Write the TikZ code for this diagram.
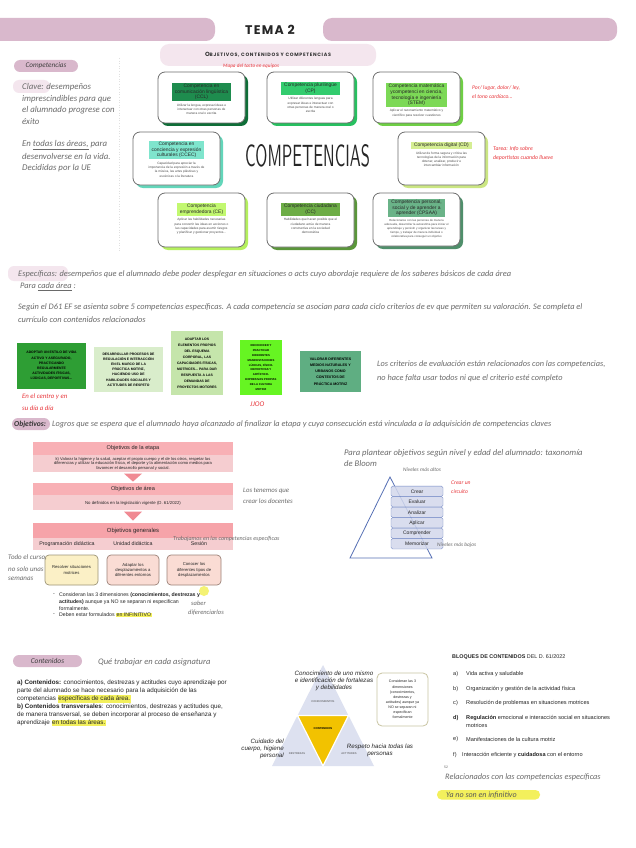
\documentclass[tikz,border=0pt]{standalone}
\usepackage{fontspec}
\setmainfont{Liberation Sans}
\newfontfamily\hand{Carlito}
\newfontfamily\titlespaced{Poppins}[LetterSpace=10]
\newfontfamily\subspaced{Poppins}[LetterSpace=14]
\usetikzlibrary{calc}
\newcommand\fsz[2]{\fontsize{#1}{#2}\selectfont}
\definecolor{hly}{HTML}{F3F05C}
\newcommand\hlt[1]{{\setlength\fboxsep{0.6pt}\colorbox{hly}{#1}}}
\definecolor{pinkbar}{HTML}{D9B8CC}
\definecolor{pinklight}{HTML}{F4E6EE}
\definecolor{hgray}{HTML}{6A6A6A}
\definecolor{nred}{HTML}{E8353A}
\definecolor{cardline}{HTML}{6E6E6E}
\definecolor{cclT}{HTML}{1E8C4E}\definecolor{cclS}{HTML}{0F6E38}
\definecolor{cpT}{HTML}{33CC6E}\definecolor{cpS}{HTML}{27C060}
\definecolor{stemT}{HTML}{7CD956}\definecolor{stemS}{HTML}{6FCF45}
\definecolor{ccecT}{HTML}{7FE5CD}\definecolor{ccecS}{HTML}{63D6BA}
\definecolor{cdT}{HTML}{D5EE93}\definecolor{cdS}{HTML}{CBE682}
\definecolor{ceT}{HTML}{C2F870}\definecolor{ceS}{HTML}{B5F05E}
\definecolor{ccT}{HTML}{6DAD46}\definecolor{ccS}{HTML}{5A963A}
\definecolor{cpsT}{HTML}{6AB388}\definecolor{cpsS}{HTML}{4F8F6B}
\definecolor{gA}{HTML}{2E9E34}\definecolor{gB}{HTML}{D9EDCB}\definecolor{gC}{HTML}{C5E5AB}
\definecolor{gD}{HTML}{66F522}\definecolor{gE}{HTML}{5FAE82}
\definecolor{phdr}{HTML}{F8B0B5}\definecolor{pbody}{HTML}{F5CDD0}\definecolor{parrow}{HTML}{F08A93}
\definecolor{phdrB}{HTML}{F6A3A9}
\definecolor{ybox}{HTML}{FBF0C6}\definecolor{ybord}{HTML}{9C9477}
\definecolor{sbox}{HTML}{FADCD4}\definecolor{sbord}{HTML}{9C8278}
\definecolor{bline}{HTML}{5670B5}\definecolor{bfill}{HTML}{D3D8EC}\definecolor{bbord}{HTML}{7086C4}
\definecolor{lav}{HTML}{DDE1F0}\definecolor{gold}{HTML}{F2C200}\definecolor{olivebd}{HTML}{C9C5A3}

\tikzset{
  hw/.style={font=\hand\itshape\fsz{#1}{#1}, text=hgray, inner sep=0, anchor=west},
  hwred/.style={font=\hand\itshape\fsz{#1}{#1}, text=nred, inner sep=0, anchor=west},
  cardtitle/.style={font=\fsz{4.9}{5.6}, align=center, inner xsep=3, inner ysep=1.6, text=black!85},
  cardbody/.style={font=\fsz{3.2}{4.3}, align=center, inner sep=0.5, text=black!70},
  gbox/.style={font=\bfseries\fsz{3.4}{5.2}, align=center, inner sep=0.5, text=black},
  fhdr/.style={fill=phdr, minimum width=200, inner sep=0, font=\fsz{5.6}{6}, text=black!85},
  fbody/.style={fill=pbody, minimum width=200, inner sep=0, font=\fsz{4.1}{4.8}, align=center, text=black!85},
  smallbox/.style={draw=#1, line width=0.7, rounded corners=4, minimum width=53, minimum height=30, inner sep=0, align=center, font=\fsz{4.2}{5.4}, text=black!85},
  txt/.style={font=\fsz{#1}{#1}, inner sep=0, anchor=west, text=black!85},
  blm/.style={draw=bbord, fill=bfill, fill opacity=0.85, text opacity=1, rounded corners=1.5, minimum width=52, minimum height=10.3, inner sep=0, font=\fsz{5}{5}, text=black!85},
  tri/.style={font=\fsz{2.7}{3}, text=black!70, inner sep=0},
  trlab/.style={font=\itshape\fsz{6.2}{7.2}, align=center, inner sep=0, text=black!85},
}

\newcommand\compcard[9]{%
  \fill[#5, rounded corners=7] ({#2+3},{#3+3}) rectangle ++(87,#9);
  \draw[cardline, line width=0.8, fill=white, rounded corners=7] (#2,#3) rectangle ++(87,#9);
  \node[cardtitle, fill=#4] (#1) at ({#2+43.5},{#3+#8}) {#6};
  \node[cardbody, anchor=north] (#1b) at ([yshift=-1.4pt]#1.south) {#7};
}

\begin{document}
\begin{tikzpicture}[x=1pt,y=-1pt]
\useasboundingbox (0,0) rectangle (636,848);
\fill[white] (0,0) rectangle (636,848);

% ---------- header
\fill[pinkbar,rounded corners=9] (-30,18) rectangle (215,41);
\fill[pinkbar,rounded corners=9] (323,18) rectangle (617,41);
\node[font=\titlespaced\bfseries\fsz{12.5}{13}, text=black!85, inner sep=0] (tema) at (270,29.5) {TEMA 2};
\fill[pinklight,rounded corners=9] (160,44) rectangle (376,66);
\node[font=\subspaced\bfseries, text=black!80, inner sep=0] (sub) at (268,55) {{\fsz{6}{6}O}{\fsz{4.8}{6}BJETIVOS, CONTENIDOS Y COMPETENCIAS}};

% ---------- competencias left
\fill[pinkbar, rounded corners=6] (14,60) rectangle (78,72);
\node[hw=7.2, text=black!75, anchor=center] (lcomp) at (46,66) {Competencias};
\fill[pinklight, rounded corners=6] (13,80) rectangle (50,93);
\node[hw=8.8] (k1) at (22,87) {Clave: desempeños};
\node[hw=8.8] (k2) at (22,99) {imprescindibles para que};
\node[hw=8.8] (k3) at (22,110.5) {el alumnado progrese con};
\node[hw=8.8] (k4) at (22,122) {éxito};
\node[hw=8.8] (k5) at (22,145) {En \underline{todas las áreas,} para};
\node[hw=8.8] (k6) at (22,156.5) {desenvolverse en la vida.};
\node[hw=8.8] (k7) at (22,168) {Decididas por la UE};
\draw[black!12, dotted, line width=0.6] (119,58) -- (119,252);

% ---------- cards
\compcard{ccl}{158}{72}{cclT}{cclS}{Competencia en\\comunicación lingüística\\(CCL)}{Utilizar la lengua, expresar ideas e\\interactuar con otras personas de\\manera oral o escrita}{20}{51}
\compcard{cp}{267}{72}{cpT}{cpS}{Competencia plurilingüe\\(CP)}{Utilizar diferentes lenguas para\\expresar ideas e interactuar con\\otras personas de manera oral o\\escrita}{16.5}{51}
\compcard{stem}{373}{72}{stemT}{stemS}{Competencia matemática\\ycompetenci en ciencia,\\tecnología e ingeniería\\(STEM)}{Aplicar el razonamiento matemático y\\científico para resolver cuestiones}{23}{51}
\compcard{ccec}{133}{132}{ccecT}{ccecS}{Competencia en\\conciencia y expresión\\culturales (CCEC)}{Capacidad para apreciar la\\importancia de la expresión a través de\\la música, las artes plásticas y\\escénicas o la literatura}{18}{53}
\compcard{cd}{398}{132}{cdT}{cdS}{Competencia digital (CD)}{Utilizar de forma segura y crítica las\\tecnologías de la información para\\obtener, analizar, producir e\\intercambiar información}{13.5}{53}
\compcard{ce}{158}{193}{ceT}{ceS}{Competencia\\emprendedora (CE)}{Aplicar las habilidades necesarias\\para convertir las ideas en acciones o\\las capacidades para asumir riesgos\\y planificar y gestionar proyectos...}{16.5}{54}
\compcard{cc}{267}{193}{ccT}{ccS}{Competencia ciudadana\\(CC)}{Habilidades que hacen posible que el\\ciudadano actúe de manera\\constructiva en la sociedad\\democrática}{16.5}{54}
\begin{scope}[cardbody/.append style={font=\fsz{2.9}{3.9}}]
\compcard{cps}{373}{193}{cpsT}{cpsS}{Competencia personal,\\social y de aprender a\\aprender (CPSAA)}{Relacionarse con las personas de manera\\adecuada, desarrollar la autoestima para iniciar el\\aprendizaje y persistir y organizar las tareas y\\tiempo, y trabajar de manera individual o\\colaborativa para conseguir un objetivo}{15}{53}
\end{scope}
\node[inner sep=0, text=black!85] (big) at (307.5,156) {\resizebox{125pt}{22pt}{\sffamily COMPETENCIAS}};

\node[hwred=5.2] (n1) at (223,66) {Mapa del tacto en equipos};
\node[hwred=5.6] (n2) at (472,88) {Por/ lugar, dolor/ ley,};
\node[hwred=5.6] (n3) at (472,96.5) {el tono cardíaco...};
\node[hwred=5.8] (n4) at (493,149) {Tarea: Info sobre};
\node[hwred=5.8] (n5) at (493,158) {deportistas cuando llueve};

% ---------- especificas
\fill[pinklight, rounded corners=6] (8,266) rectangle (68,281);
\node[hw=8.4] (e1) at (18,274) {Específicas: desempeños que el alumnado debe poder desplegar en situaciones o acts cuyo abordaje requiere de los saberes básicos de cada área};
\node[hw=8.4] (e2) at (20,287) {Para \underline{cada área} :};
\node[hw=8.4] (e3) at (18,307) {Según el D61 EF se asienta sobre 5 competencias específicas. A cada competencia se asocian para cada ciclo criterios de ev que permiten su valoración. Se completa el};
\node[hw=8.4] (e4) at (18,320) {currículo con contenidos relacionados};

\node[gbox, fill=gA, minimum width=69, minimum height=46] (gb1) at (51.5,366) {ADOPTAR UN ESTILO DE VIDA\\ACTIVO Y ASEGURADO,\\PRACTICANDO\\REGULARMENTE\\ACTIVIDADES FÍSICAS,\\LÚDICAS, DEPORTIVAS...};
\node[gbox, fill=gB, minimum width=69, minimum height=45] (gb2) at (128.5,369.5) {DESARROLLAR PROCESOS DE\\REGULACIÓN E INTERACCIÓN\\EN EL MARCO DE LA\\PRÁCTICA MOTRIZ,\\HACIENDO USO DE\\HABILIDADES SOCIALES Y\\ACTITUDES DE RESPETO};
\node[gbox, fill=gC, minimum width=52, minimum height=64, font=\bfseries\fsz{3.4}{6}] (gb3) at (197,363) {ADAPTAR LOS\\ELEMENTOS PROPIOS\\DEL ESQUEMA\\CORPORAL, LAS\\CAPACIDADES FÍSICAS,\\MOTRICES... PARA DAR\\RESPUESTA A LAS\\DEMANDAS DE\\PROYECTOS MOTORES};
\node[gbox, fill=gD, minimum width=42, minimum height=55, font=\bfseries\fsz{2.8}{4.9}] (gb4) at (261,367.5) {RECONOCER Y\\PRACTICAR\\DIFERENTES\\MANIFESTACIONES\\LÚDICAS, FÍSICO-\\DEPORTIVAS Y\\ARTÍSTICO-\\EXPRESIVAS PROPIAS\\DE LA CULTURA\\MOTRIZ};
\node[gbox, fill=gE, minimum width=61, minimum height=41, font=\bfseries\fsz{3.6}{6.2}] (gb5) at (330.5,371.5) {VALORAR DIFERENTES\\MEDIOS NATURALES Y\\URBANOS COMO\\CONTEXTOS DE\\PRÁCTICA MOTRIZ};
\node[hwred=6.8] (r1) at (22,397) {En el centro y en};
\node[hwred=6.8] (r2) at (22,408) {su día a día};
\node[hwred=7.2] (r3) at (250,404) {JJOO};
\node[hw=8.3] (c1) at (377,364) {Los criterios de evaluación están relacionados con las competencias,};
\node[hw=8.3] (c2) at (377,378) {no hace falta usar todos ni que el criterio esté completo};

% ---------- objetivos
\fill[pinkbar, rounded corners=6] (12,418) rectangle (50,430);
\node[hw=7.6, text=black!80, font=\hand\itshape\bfseries\fsz{7.6}{7.6}] (ob) at (14,424) {Objetivos:};
\node[hw=8.3] (ob2) at (52,424) {Logros que se espera que el alumnado haya alcanzado al finalizar la etapa y cuya consecución está vinculada a la adquisición de competencias claves};

\node[fhdr, minimum height=13] (f1) at (133,448.5) {Objetivos de la etapa};
\node[fbody, minimum height=17, anchor=north] (f1b) at (f1.south) {k) Valorar la higiene y la salud, aceptar el propio cuerpo y el de los otros, respetar las\\diferencias y utilizar la educación física, el deporte y la alimentación como medios para\\favorecer el desarrollo personal y social.};
\node[fhdr, minimum height=12] (f2) at (133,489) {Objetivos de área};
\node[fbody, minimum height=15, anchor=north, font=\fsz{4.3}{5}] (f2b) at (f2.south) {No definidos en la legislación vigente (D. 61/2022)};
\node[fhdr, fill=phdrB, minimum height=15, font=\fsz{5.9}{6}] (f3) at (133,530.5) {Objetivos generales};
\node[fbody, minimum height=12, anchor=north] (f3b) at (f3.south) {};
\node[txt=5.3, anchor=center] (f3x) at (67,544) {Programación didáctica};
\node[txt=5.3, anchor=center] (f3y) at (133,544) {Unidad didáctica};
\node[txt=5.3, anchor=center] (f3z) at (199,544) {Sesión};
\fill[parrow] ([xshift=-9pt,yshift=-1pt]f1b.south) -- ([xshift=9pt,yshift=-1pt]f1b.south) -- ([yshift=-9pt]f1b.south) -- cycle;
\fill[parrow] ([xshift=-9pt,yshift=-1pt]f2b.south) -- ([xshift=9pt,yshift=-1pt]f2b.south) -- ([yshift=-10pt]f2b.south) -- cycle;
\node[hw=6.8] (t1) at (243,491) {Los tenemos que};
\node[hw=6.8] (t2) at (243,501) {crear los docentes};
\node[hw=6] (t3) at (173,539) {Trabajamos en las competencias específicas};

\node[smallbox=ybord, fill=ybox] (sb1) at (71.5,570) {Resolver situaciones\\motrices};
\node[smallbox=sbord, fill=sbox, minimum width=52] (sb2) at (133,570) {Adaptar los\\desplazamientos a\\diferentes entornos};
\node[smallbox=sbord, fill=sbox, minimum width=54] (sb3) at (194,570) {Conocer los\\diferentes tipos de\\desplazamientos};
\node[hw=7] (tc1) at (8,558) {Todo el curso,};
\node[hw=7] (tc2) at (8,569) {no solo unas};
\node[hw=7] (tc3) at (8,579) {semanas};

\fill[hly, opacity=0.85] (204,591) circle (5);
\node[txt=5.2] (bd1) at (53,595) {-};
\node[txt=5.2] (bl1) at (59,595) {Consideran las 3 dimensiones \textbf{(conocimientos, destrezas y}};
\node[txt=5.2] (bl2) at (59,602) {\textbf{actitudes)} aunque ya NO se separan ni especifican};
\node[txt=5.2] (bl3) at (59,608.5) {formalmente.};
\node[txt=5.2] (bd2) at (53,615) {-};
\node[txt=5.2] (bl4) at (59,615) {Deben estar formulados \hlt{en INFINITIVO}};
\node[hw=6.5] (sd1) at (191,603) {saber};
\node[hw=6.5] (sd2) at (188,613) {diferenciarlos};

% ---------- Bloom
\node[hw=8.6] (bm1) at (344,453) {Para plantear objetivos según nivel y edad del alumnado: taxonomía};
\node[hw=8.6] (bm2) at (344,464) {de Bloom};
\node[hw=5.4] (bm3) at (403,469.5) {Niveles más altos};
\draw[bline, line width=0.8] (390,477) -- (350,558) -- (432,558) -- cycle;
\node[blm] (b1) at (417,491.3) {Crear};
\node[blm] (b2) at (417,501.8) {Evaluar};
\node[blm] (b3) at (417,512.3) {Analizar};
\node[blm] (b4) at (417,522.8) {Aplicar};
\node[blm] (b5) at (417,533.3) {Comprender};
\node[blm] (b6) at (417,543.8) {Memorizar};
\node[hw=5.4] (bm4) at (437,545) {Niveles más bajos};
\node[hwred=5.6] (bm5) at (451,483) {Crear un};
\node[hwred=5.6] (bm6) at (451,492) {circuito};

% ---------- contenidos
\fill[pinkbar, rounded corners=6] (13,655) rectangle (82,667);
\node[hw=7.4, text=black!75, anchor=center] (ct) at (47.5,661) {Contenidos};
\node[hw=8.5] (ct2) at (98,662) {Qué trabajar en cada asignatura};
\node[txt=6.3] (p1) at (17,683) {\textbf{a) Contenidos:} conocimientos, destrezas y actitudes cuyo aprendizaje por};
\node[txt=6.3] (p2) at (17,691) {parte del alumnado se hace necesario para la adquisición de las};
\node[txt=6.3] (p3) at (17,699) {competencias \hlt{específicas de cada área.}};
\node[txt=6.3] (p4) at (17,707) {\textbf{b) Contenidos transversales}: conocimientos, destrezas y actitudes que,};
\node[txt=6.3] (p5) at (17,715) {de manera transversal, se deben incorporar al proceso de enseñanza y};
\node[txt=6.3] (p6) at (17,723) {aprendizaje \hlt{en todas las áreas.}};

% ---------- triangle
\fill[lav] (323,665) -- (272,766) -- (374,766) -- cycle;
\fill[gold] (297.5,715.5) -- (348.5,715.5) -- (323,766) -- cycle;
\draw[white, line width=1.2] (297.5,715.5) -- (348.5,715.5) -- (323,766) -- cycle;
\node[tri] (tk) at (323,702) {CONOCIMIENTOS};
\node[tri, font=\bfseries\fsz{2.8}{3}, text=black] (tc) at (323,729) {CONTENIDOS};
\node[tri] (td) at (297,754) {DESTREZAS};
\node[tri] (ta) at (349,754) {ACTITUDES};
\node[trlab] (lk) at (334,681) {Conocimiento de uno mismo\\e identificación de fortalezas\\y debilidades};
\node[trlab, align=right, anchor=east] (ld) at (284,749) {Cuidado del\\cuerpo, higiene\\personal};
\node[trlab] (la) at (380,750.5) {Respeto hacia todas las\\personas};
\node[draw=olivebd, line width=0.8, rounded corners=5, minimum width=51, minimum height=53, align=center, font=\fsz{3.6}{5.1}, inner sep=0, text=black!85] (cbox) at (402.5,699.5) {Consideran las 3\\dimensiones\\(conocimientos,\\destrezas y\\actitudes) aunque ya\\NO se separan ni\\especifican\\formalmente};
\node[font=\fsz{3.5}{4}, text=black!60, inner sep=0] (pg) at (446,767) {52};

% ---------- bloques
\node[txt=5.4] (bq) at (452,657) {\textbf{BLOQUES DE CONTENIDOS} DEL D. 61/2022};
\node[txt=5.6] (qa) at (453,674) {a)};
\node[txt=5.6] (qat) at (466,674) {Vida activa y saludable};
\node[txt=5.6] (qb) at (453,689) {b)};
\node[txt=5.6] (qbt) at (466,689) {Organización y gestión de la actividad física};
\node[txt=5.6] (qc) at (453,703) {c)};
\node[txt=5.6] (qct) at (466,703) {Resolución de problemas en situaciones motrices};
\node[txt=5.6] (qd) at (453,718) {\textbf{d)}};
\node[txt=5.6] (qdt) at (466,718) {\textbf{Regulación} emocional e interacción social en situaciones};
\node[txt=5.6] (qdt2) at (466,725.5) {motrices};
\node[txt=5.6] (qe) at (453,739) {e)};
\node[txt=5.6] (qet) at (466,739) {Manifestaciones de la cultura motriz};
\node[txt=5.6] (qf) at (453,755) {f)};
\node[txt=5.6] (qft) at (462,755) {Interacción eficiente y \textbf{cuidadosa} con el entorno};
\node[hw=8.3] (rel) at (445,777) {Relacionados con las competencias específicas};
\fill[hly, rounded corners=4.5] (437,790) rectangle (540,799.5);
\node[hw=8, text=black!65] (inf) at (446,794.8) {Ya no son en infinitivo};
\end{tikzpicture}
\end{document}
